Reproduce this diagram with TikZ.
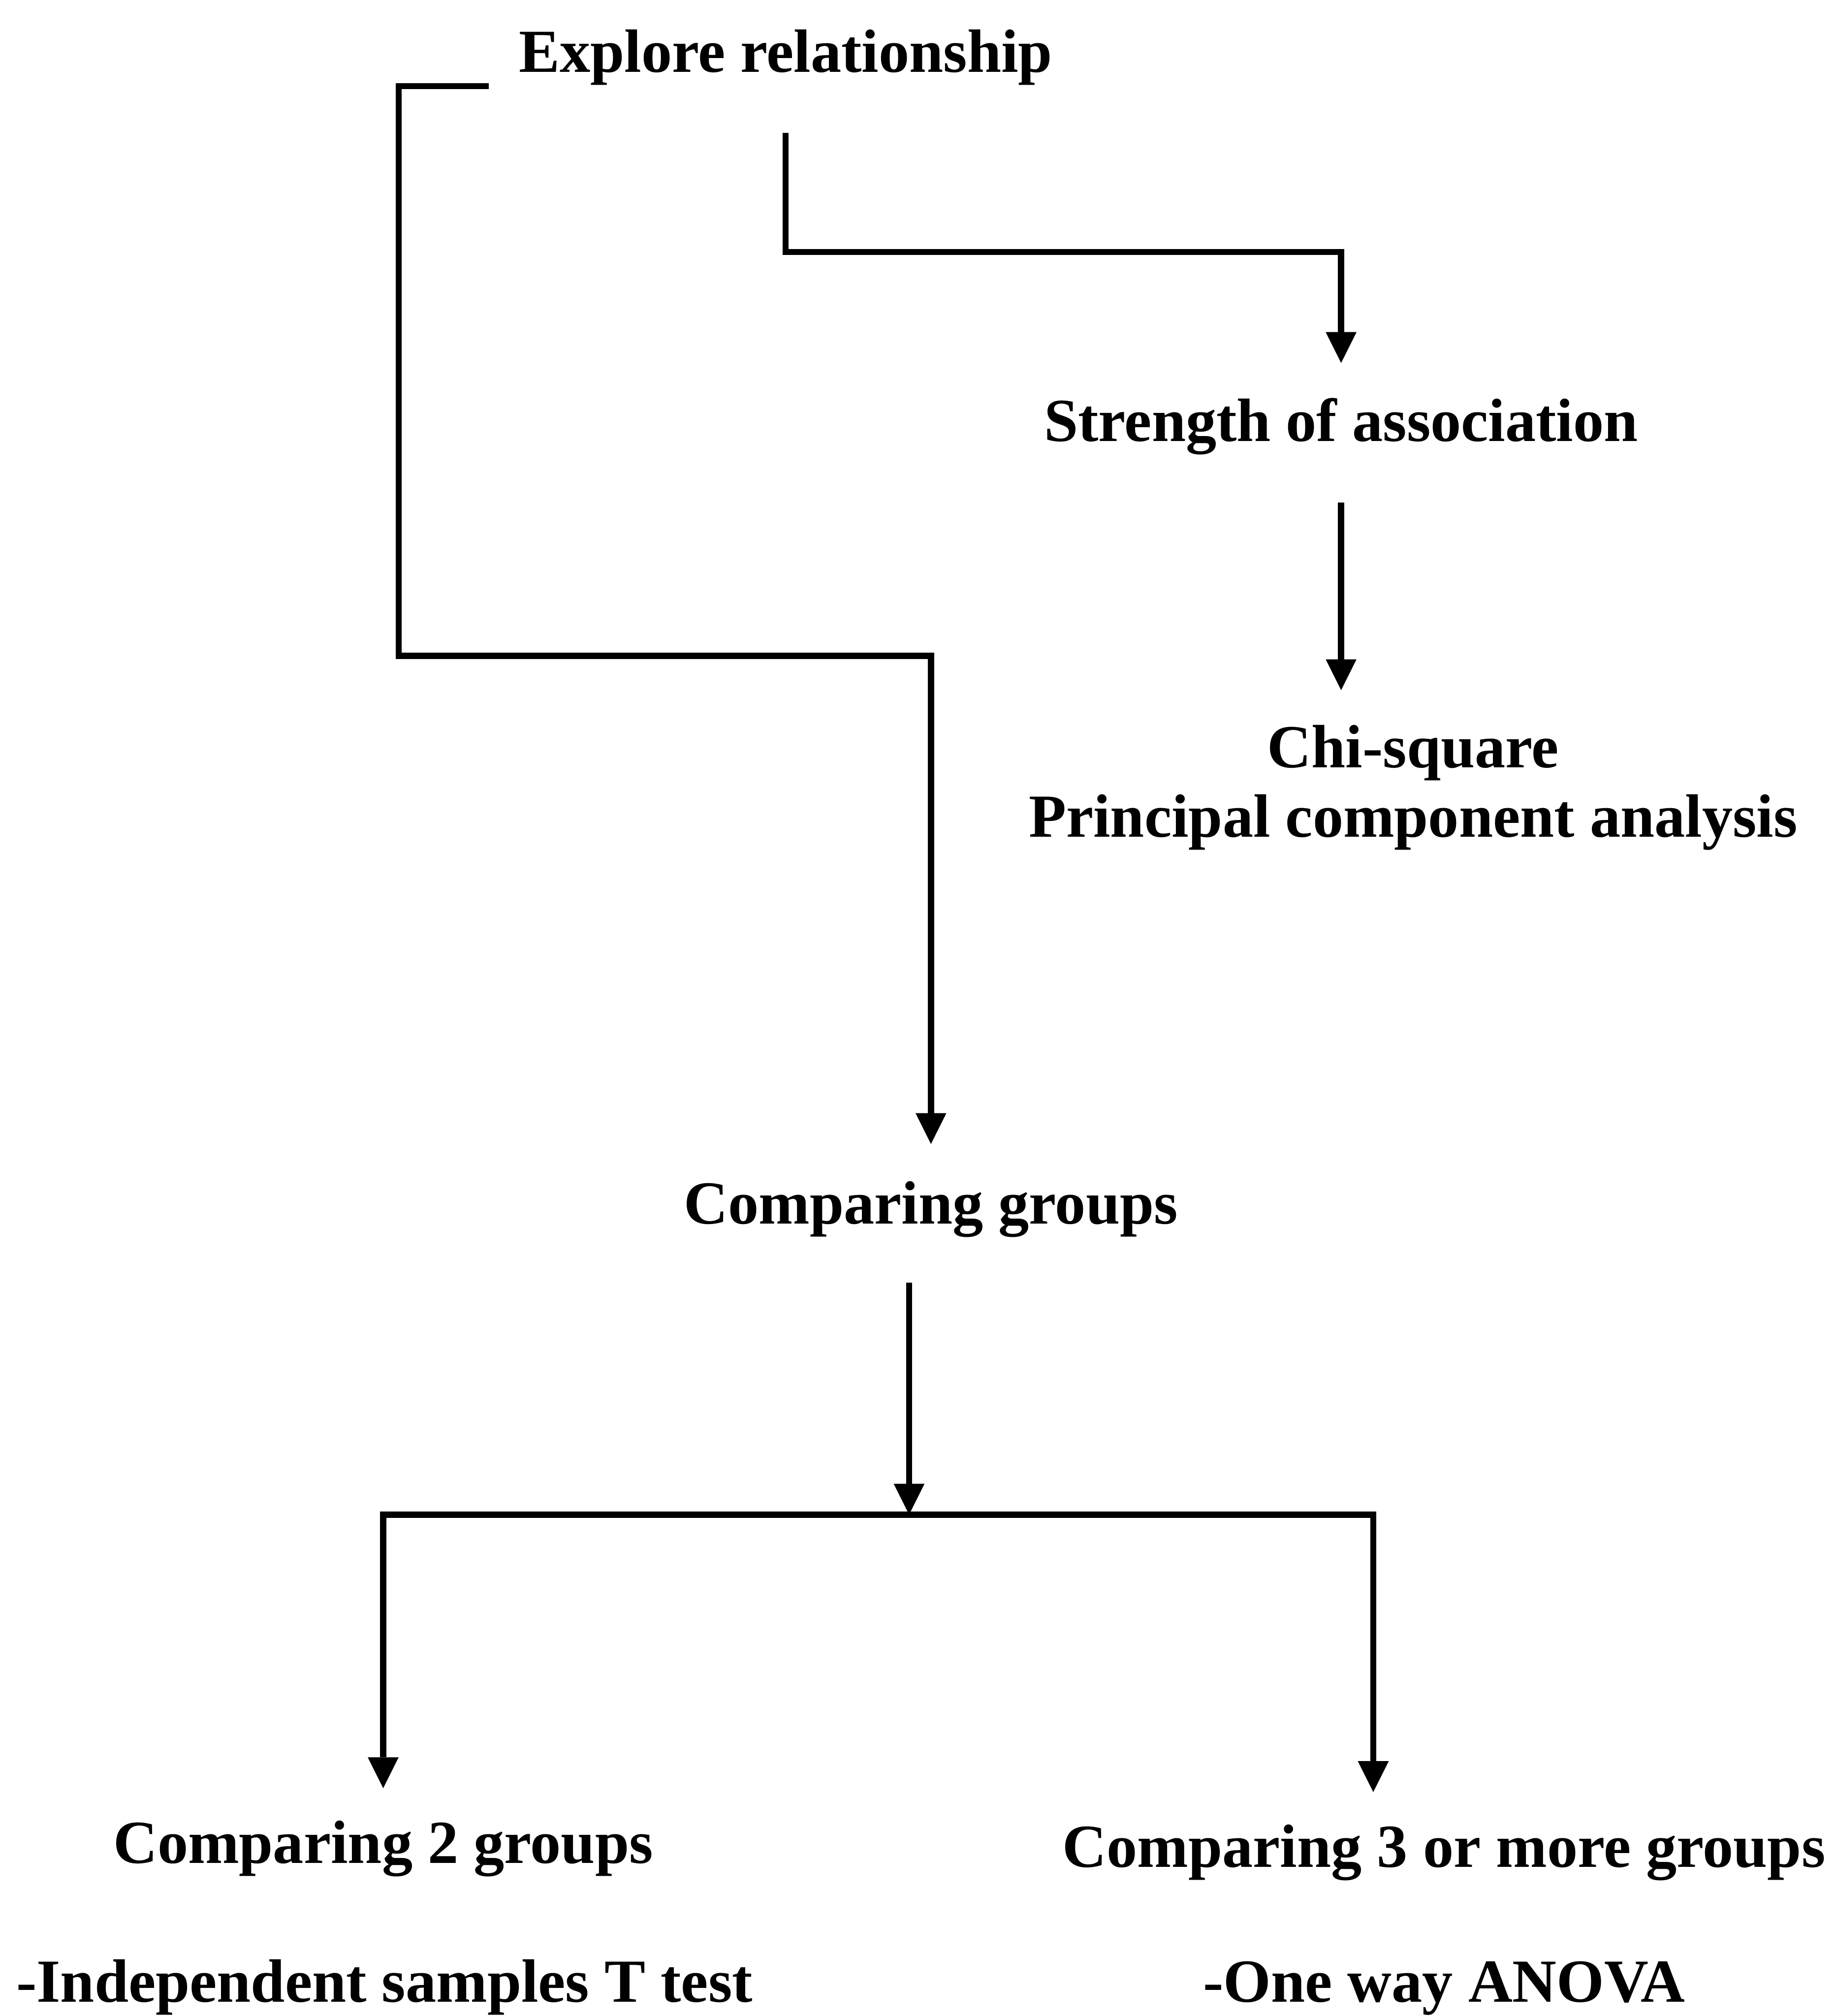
\documentclass[tikz,border=0pt]{standalone}
\usepackage{fontspec}
\setmainfont{Liberation Serif}
\usetikzlibrary{arrows.meta,calc}

\begin{document}
\begin{tikzpicture}[x=1pt,y=-1pt,
  label/.style={inner sep=0pt, anchor=base, align=center,
    font=\bfseries\fontsize{47.6}{54}\selectfont},
  link/.style={line width=4.8pt, line join=miter},
  tip/.style={link, -{Triangle[width=24pt,length=24pt,line width=0pt]}},
  twotip/.style={link, {Triangle[width=24pt,length=24pt,line width=0pt]}-{Triangle[width=24pt,length=24pt,line width=0pt]}}]

  % page frame
  \useasboundingbox (0,0) rectangle (1427,1568);

  % texts (a multi-line node sits on the baseline of its last line)
  \node[label] (expl)     at (611,56)    {Explore relationship};
  \node[label] (strength) at (1043,343)  {Strength of association};
  \node[label] (chi)      at (1099,651)  {Chi-square\\Principal component analysis};
  \node[label] (cmpg)     at (724,952)   {Comparing groups};
  \node[label] (cmp2)     at (298,1449)  {Comparing 2 groups};
  \node[label] (cmp3)     at (1123,1452) {Comparing 3 or more groups};
  \node[label] (ttest)    at (299,1557)  {-Independent samples T test};
  \node[label] (anova)    at (1123,1557) {-One way ANOVA};

  % bend points and free ends of the connectors
  \coordinate (a1) at (380,67);
  \coordinate (a2) at (310,510);
  \coordinate (a3) at ([yshift=29pt]cmpg.north);
  \coordinate (b1) at ([yshift=-37pt]expl.south);
  \coordinate (b2) at (1043,196);
  \coordinate (b3) at ([yshift=27pt]strength.north);
  \coordinate (s1) at ([yshift=-37pt]strength.south);
  \coordinate (s2) at ([yshift=27pt]chi.north);
  \coordinate (c1) at ([xshift=-17pt,yshift=-35pt]cmpg.south);
  \coordinate (hub) at (707,1178);
  \coordinate (hr) at (1068,1178);
  \coordinate (t2) at ([yshift=25pt]cmp2.north);
  \coordinate (t3) at ([yshift=25pt]cmp3.north);

  % connectors
  \draw[tip] (a1) -| (a2) -| (a3);
  \draw[tip] (b1) |- (b2) -- (b3);
  \draw[tip] (s1) -- (s1 |- s2);
  \draw[tip] (c1) -- (hub);
  \draw[twotip] (t2) |- (hr) -- (hr |- t3);
\end{tikzpicture}
\end{document}
